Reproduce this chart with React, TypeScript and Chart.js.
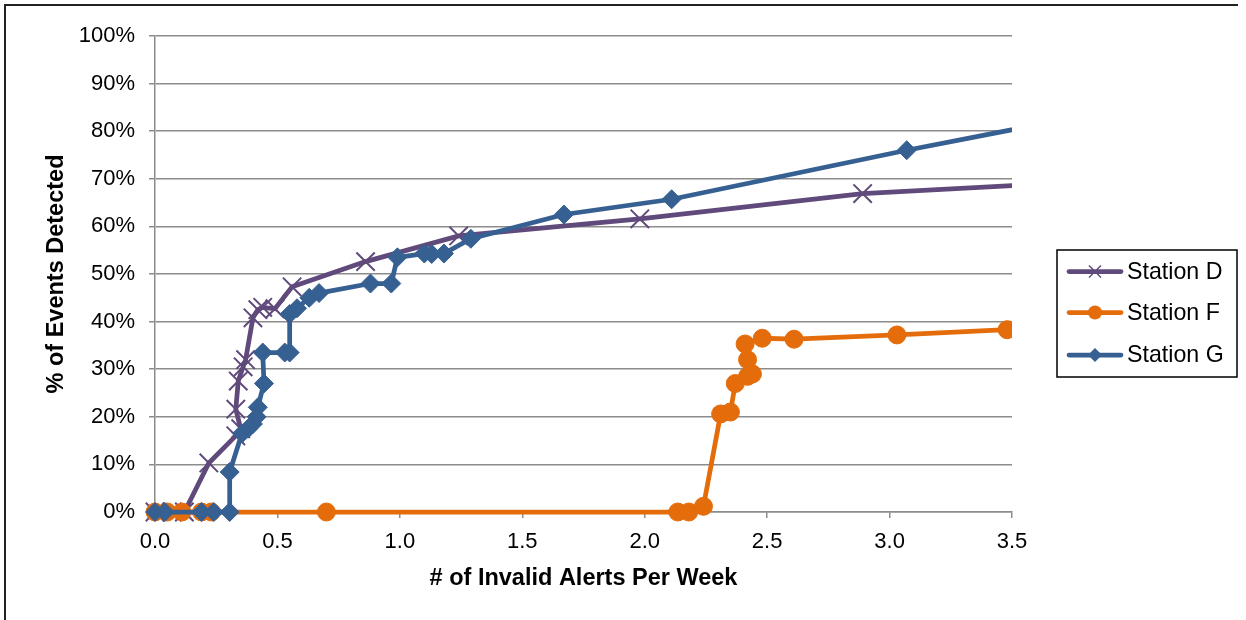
import React, { useEffect, useRef } from "react";
import { Chart, registerables } from "chart.js";

Chart.register(...registerables);

const seriesNames = ["Station D", "Station F", "Station G"];
const seriesColors = ["#604a7b", "#e46c0a", "#376092"];

const stationDX = [0, 0.07, 0.12, 0.22, 0.33, 0.35, 0.33, 0.34, 0.36, 0.37, 0.4, 0.42, 0.44, 0.49, 0.56, 0.86, 1.24, 1.98, 2.89, 3.8];
const stationDY = [0, 0, 0, 10.3, 16.0, 17.5, 21.6, 27.5, 30.5, 32, 40.8, 42.5, 43, 42.7, 47.3, 52.6, 58, 61.6, 66.9, 69.4];

const stationFX = [0, 0.05, 0.11, 0.19, 0.23, 0.7, 2.135, 2.18, 2.24, 2.31, 2.35, 2.37, 2.42, 2.44, 2.42, 2.41, 2.48, 2.61, 3.03, 3.48];
const stationFY = [0, 0, 0, 0, 0, 0, 0, 0, 1.2, 20.6, 21, 27, 28.5, 29, 32, 35.3, 36.5, 36.3, 37.2, 38.3];

const stationGX = [0, 0.04, 0.19, 0.24, 0.305, 0.305, 0.355, 0.38, 0.4, 0.415, 0.42, 0.445, 0.44, 0.53, 0.55, 0.55, 0.58, 0.63, 0.67, 0.88, 0.965, 0.99, 1.1, 1.13, 1.18, 1.29, 1.67, 2.11, 3.07, 3.8];
const stationGY = [0, 0, 0, 0, 0, 8.4, 16.5, 17.5, 18.5, 20, 22, 27, 33.5, 33.5, 33.5, 41.6, 42.8, 45, 46, 48, 48, 53.5, 54.3, 54.2, 54.3, 57.4, 62.5, 65.7, 76, 83.3];

const xTitle = "# of Invalid Alerts Per Week";
const yTitle = "% of Events Detected";

const FONT = "'Liberation Sans', Arial, sans-serif";
const GRID = "#8c8c8c";

const toPoints = (xs: number[], ys: number[]) => xs.map((x, i) => ({ x, y: ys[i] }));

const pointStyles = ["crossRot", "circle", "rectRot"];
const pointRadii = [13, 9, 9.5];
const pointBorderWidths = [2, 1, 1];

const legendPlugin = {
  id: "boxLegend",
  afterDraw(chart: any) {
    const ctx = chart.ctx;
    const left = 1057, top = 250, w = 180, h = 127;
    ctx.save();
    ctx.strokeStyle = "#000";
    ctx.lineWidth = 1.5;
    ctx.strokeRect(left, top, w, h);
    const ys = [271.5, 312.5, 355];
    seriesNames.forEach((name, i) => {
      const y = ys[i];
      ctx.strokeStyle = seriesColors[i];
      ctx.lineWidth = 4.75;
      ctx.lineCap = "round";
      ctx.beginPath();
      ctx.moveTo(1069, y);
      ctx.lineTo(1121, y);
      ctx.stroke();
      ctx.fillStyle = seriesColors[i];
      const st = pointStyles[i];
      if (st === "crossRot") {
        ctx.lineWidth = 1.5;
        ctx.lineCap = "butt";
        ctx.beginPath();
        ctx.moveTo(1095 - 6, y - 6);
        ctx.lineTo(1095 + 6, y + 6);
        ctx.moveTo(1095 + 6, y - 6);
        ctx.lineTo(1095 - 6, y + 6);
        ctx.stroke();
      } else if (st === "circle") {
        ctx.beginPath();
        ctx.arc(1095, y, 7, 0, Math.PI * 2);
        ctx.fill();
      } else {
        ctx.beginPath();
        ctx.moveTo(1095, y - 7);
        ctx.lineTo(1102, y);
        ctx.lineTo(1095, y + 7);
        ctx.lineTo(1088, y);
        ctx.closePath();
        ctx.fill();
      }
      ctx.fillStyle = "#000";
      ctx.font = `23.2px ${FONT}`;
      ctx.textBaseline = "middle";
      ctx.textAlign = "left";
      ctx.fillText(name, 1127, y + 1);
    });
    ctx.restore();
  },
};

export default function App() {
  const ref = useRef<HTMLCanvasElement>(null);
  useEffect(() => {
    if (!ref.current) return;
    const xs = [stationDX, stationFX, stationGX];
    const ysAll = [stationDY, stationFY, stationGY];
    const orders = [3, 2, 1];
    const chart = new Chart(ref.current, {
      type: "scatter",
      data: {
        datasets: seriesNames.map((name, i) => ({
          label: name,
          data: toPoints(xs[i], ysAll[i]),
          showLine: true,
          borderColor: seriesColors[i],
          backgroundColor: seriesColors[i],
          borderWidth: 4.75,
          pointStyle: pointStyles[i] as any,
          pointRadius: pointRadii[i],
          pointBorderWidth: pointBorderWidths[i],
          pointBorderColor: seriesColors[i],
          pointBackgroundColor: seriesColors[i],
          order: orders[i],
          clip: { left: 30, top: 30, right: 0, bottom: 30 } as any,
        })),
      },
      options: {
        responsive: false,
        animation: false,
        devicePixelRatio: 1,
        layout: { padding: { left: 42, right: 234, top: 36, bottom: 27 } },
        plugins: {
          legend: { display: false },
          tooltip: { enabled: false },
        },
        scales: {
          x: {
            type: "linear",
            min: 0,
            max: 3.5,
            afterFit: (s: any) => {
              s.height = 81;
            },
            ticks: {
              stepSize: 0.5,
              color: "#000",
              font: { family: FONT, size: 22 },
              padding: 11,
              maxRotation: 0,
              callback: (v: any) => Number(v).toFixed(1),
            },
            grid: {
              drawOnChartArea: false,
              drawTicks: true,
              tickLength: 6,
              color: GRID,
              lineWidth: 1.5,
            },
            border: { color: GRID, width: 1.5 },
            title: {
              display: true,
              text: xTitle,
              color: "#000",
              font: { family: FONT, size: 23.5, weight: "bold" },
              padding: { top: 0, bottom: 0 },
            },
          },
          y: {
            type: "linear",
            min: 0,
            max: 100,
            afterFit: (s: any) => {
              s.width = 113;
            },
            ticks: {
              stepSize: 10,
              color: "#000",
              font: { family: FONT, size: 22 },
              padding: 14,
              callback: (v: any) => `${v}%`,
            },
            grid: {
              color: GRID,
              lineWidth: 1.5,
              tickLength: 6,
            },
            border: { color: GRID, width: 1.5 },
            title: {
              display: true,
              text: yTitle,
              color: "#000",
              font: { family: FONT, size: 23.5, weight: "bold" },
              padding: { top: 0, bottom: 0 },
            },
          },
        },
      },
      plugins: [legendPlugin],
    });
    return () => chart.destroy();
  }, []);

  return (
    <div style={{ position: "absolute", left: 0, top: 0, width: 1246, height: 620, background: "#fff", overflow: "hidden" }}>
      <div
        style={{
          position: "absolute",
          left: 4,
          top: 4,
          width: 1234,
          height: 700,
          borderLeft: "2px solid #222",
          borderTop: "2px solid #222",
          boxSizing: "border-box",
        }}
      />
      <canvas ref={ref} width={1246} height={620} style={{ position: "absolute", left: 0, top: 0 }} />
    </div>
  );
}
